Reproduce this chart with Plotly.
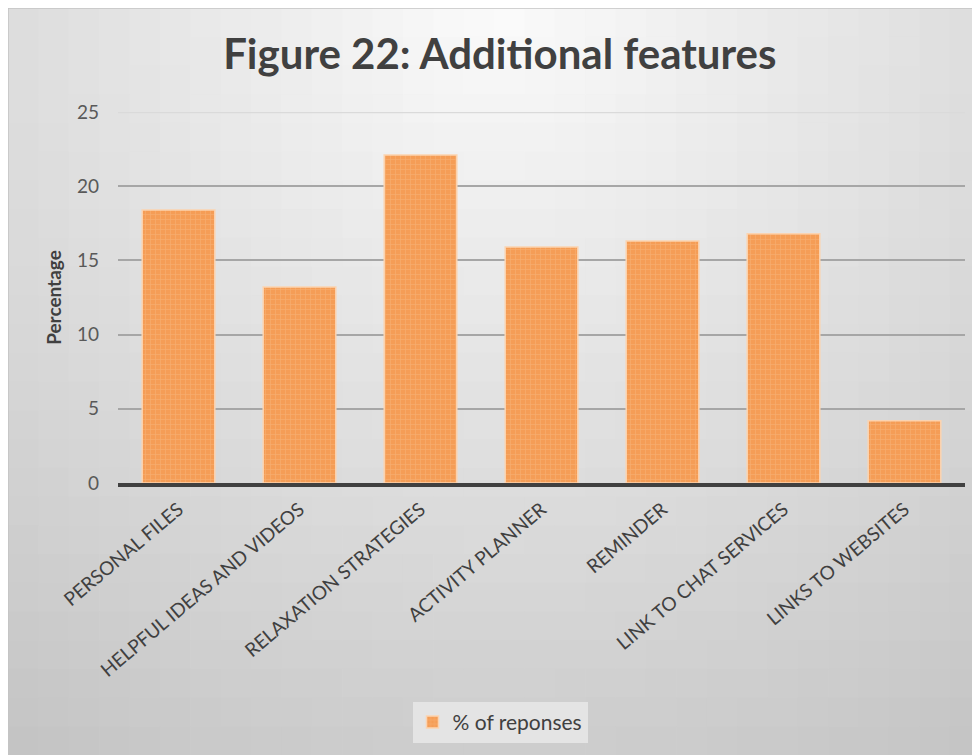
import math
import plotly.graph_objects as go

features = ["PERSONAL FILES", "HELPFUL IDEAS AND VIDEOS", "RELAXATION STRATEGIES",
            "ACTIVITY PLANNER", "REMINDER", "LINK TO CHAT SERVICES", "LINKS TO WEBSITES"]
responses = [18.4, 13.2, 22.1, 15.9, 16.3, 16.8, 4.2]
y_ticks = [0, 5, 10, 15, 20, 25]

# the page body adds an 8px margin, so the figure is 8px smaller than the window
W, H = 972, 747
L, R, T, B = 110, 15, 104, 272
pw, ph = W - L - R, H - T - B


def px2paper(x, y):
    return (x - L) / pw, (H - B - y) / ph


fig = go.Figure()
fig.add_trace(go.Bar(
    x=features, y=responses, name="% of reponses",
    width=0.6,
    marker=dict(color="#f59d56",
                line=dict(color="#fbd3b0", width=1.5),
                pattern=dict(shape="+", fgcolor="#f9bd88", bgcolor="#f59d56",
                             size=5, solidity=0.25)),
))

# radial-ish grey gradient behind the chart, lightest at top centre
shapes = []
nx, ny = 32, 26
cw = W / nx
ch = H / ny
for i in range(nx):
    for j in range(ny):
        cx = (i + 0.5) * cw
        cy = (j + 0.5) * ch
        d = math.hypot(cx - 492, cy + 8)
        g = int(round(251 - 0.062 * d))
        x0, y1 = px2paper(i * cw, j * ch)
        x1, y0 = px2paper((i + 1) * cw + 0.6, (j + 1) * ch + 0.6)
        shapes.append(dict(type="rect", xref="paper", yref="paper",
                           x0=x0, x1=x1, y0=y0, y1=y1,
                           fillcolor=f"rgb({g},{g},{g})", line=dict(width=0),
                           layer="below"))
# thin border at top / left of the chart area
bx0, by1 = px2paper(0, 0)
bx1, by0 = px2paper(W + 2, H + 2)
shapes.append(dict(type="rect", xref="paper", yref="paper", x0=bx0, x1=bx1, y0=by0, y1=by1,
                   line=dict(color="#c4c4c4", width=1.5), fillcolor="rgba(0,0,0,0)",
                   layer="below"))
# top gridline is lighter
shapes.append(dict(type="line", xref="paper", yref="y", x0=0, x1=1,
                   y0=y_ticks[-1], y1=y_ticks[-1],
                   line=dict(color="#dadada", width=2.5), layer="above"))
fig.update_layout(shapes=shapes)

fig.update_layout(
    width=W, height=H,
    margin=dict(l=L, r=R, t=T, b=B),
    paper_bgcolor="#e0e0e0",
    plot_bgcolor="rgba(0,0,0,0)",
    font=dict(family="Lato, Open Sans, sans-serif", color="#595959"),
    title=dict(text="<b>Figure 22: Additional features</b>", x=0.506, xanchor="center",
               y=0.938, yanchor="middle",
               font=dict(size=42, color="#404040")),
    showlegend=True,
    legend=dict(orientation="h", x=(492 - L) / pw, xanchor="center", y=-0.645,
                yanchor="middle", bgcolor="#e4e4e4",
                font=dict(size=21, color="#404040"), itemwidth=30),
    bargap=0.4,
)
fig.update_yaxes(range=[0, 25], tickvals=y_ticks, showgrid=True, automargin=False,
                 gridcolor="#a6a6a6", gridwidth=2, zeroline=False,
                 tickfont=dict(size=19, color="#595959"), ticks="", ticklabelstandoff=18,
                 title=dict(text="<b>Percentage</b>", font=dict(size=19, color="#404040"),
                            standoff=10))
fig.update_xaxes(tickangle=-40, tickfont=dict(size=19, color="#404040"), automargin=False,
                 showline=True, linecolor="#404040", linewidth=4,
                 ticks="", ticklabelstandoff=4)

fig.write_html("out.html")
